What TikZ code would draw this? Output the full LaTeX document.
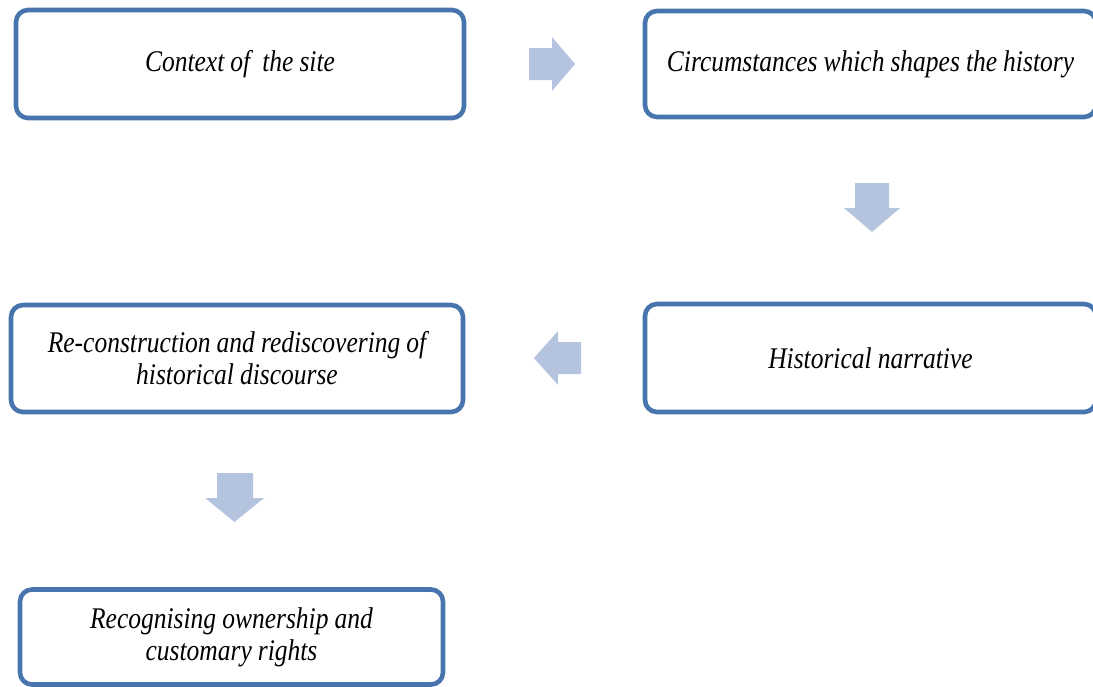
\documentclass[tikz,border=0pt]{standalone}
\usepackage{fontspec}
\newfontfamily\boxfont{Liberation Serif}[FakeStretch=0.85,WordSpace=0.95]
\definecolor{boxline}{RGB}{72,117,173}
\definecolor{arrowfill}{RGB}{180,196,223}
\tikzset{
  stagebox/.style={draw=boxline, line width=4.6pt, rounded corners=12pt, fill=white,
    inner sep=0pt, align=flush center, font=\boxfont\itshape\fontsize{30}{32}\selectfont},
  blockarrow/.style={fill=arrowfill, draw=none}
}
\begin{document}
\begin{tikzpicture}[x=1pt,y=-1pt]
\useasboundingbox (0,0) rectangle (1093,686);
\clip (0,0) rectangle (1093,686);
\node[stagebox, minimum width=448pt, minimum height=108pt] (ctx) at (240,64) {Context of~ the site};
\node[stagebox, minimum width=451pt, minimum height=106pt] (circ) at (870.5,64) {Circumstances which shapes the history};
\node[stagebox, minimum width=451pt, minimum height=108pt] (narr) at (870.5,358) {Historical narrative};
\node[stagebox, minimum width=452pt, minimum height=107pt, text width=440pt] (recon) at (237,358.5) {Re-construction and rediscovering of\\historical discourse};
\node[stagebox, minimum width=423pt, minimum height=95pt, text width=410pt] (recog) at (231.5,637) {Recognising ownership and\\customary rights};
% block arrows
\fill[blockarrow] (529,48) -- (552,48) -- (552,37) -- (575,64) -- (552,91) -- (552,80) -- (529,80) -- cycle;
\fill[blockarrow] (855,183) -- (889,183) -- (889,208) -- (900,208) -- (872,232) -- (844,208) -- (855,208) -- cycle;
\fill[blockarrow] (581,342) -- (558,342) -- (558,331) -- (534,358) -- (558,385) -- (558,374) -- (581,374) -- cycle;
\fill[blockarrow] (217,473) -- (253,473) -- (253,498) -- (264,498) -- (234.5,522) -- (205,498) -- (217,498) -- cycle;
\end{tikzpicture}
\end{document}
